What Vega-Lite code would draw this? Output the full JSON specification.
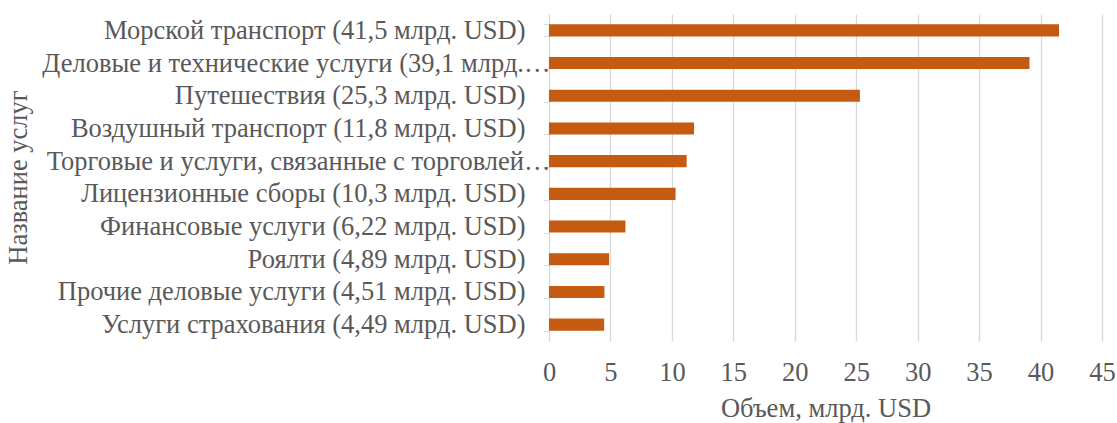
{
  "$schema": "https://vega.github.io/schema/vega-lite/v6.json",
  "autosize": {"type": "none"},
  "width": 553,
  "height": 327,
  "padding": {"left": 549, "top": 14, "right": 15, "bottom": 82},
  "background": "white",
  "config": {
    "font": "Liberation Serif",
    "view": {"stroke": null}
  },
  "data": {
    "values": [
      {"service": "Морской транспорт (41,5 млрд. USD)", "value": 41.5},
      {"service": "Деловые и технические услуги (39,1 млрд.…", "value": 39.1},
      {"service": "Путешествия (25,3 млрд. USD)", "value": 25.3},
      {"service": "Воздушный транспорт (11,8 млрд. USD)", "value": 11.8},
      {"service": "Торговые и услуги, связанные с торговлей…", "value": 11.2},
      {"service": "Лицензионные сборы (10,3 млрд. USD)", "value": 10.3},
      {"service": "Финансовые услуги (6,22 млрд. USD)", "value": 6.22},
      {"service": "Роялти (4,89 млрд. USD)", "value": 4.89},
      {"service": "Прочие деловые услуги (4,51 млрд. USD)", "value": 4.51},
      {"service": "Услуги страхования (4,49 млрд. USD)", "value": 4.49}
    ]
  },
  "mark": {"type": "bar", "color": "#C55A11"},
  "encoding": {
    "y": {
      "field": "service",
      "type": "nominal",
      "sort": null,
      "scale": {"paddingInner": 0.63, "paddingOuter": 0.315},
      "axis": {
        "title": "Название услуг",
        "titleFont": "Liberation Serif",
        "titleFontSize": 26.5,
        "titleFontWeight": "normal",
        "titleColor": "#595959",
        "titleX": -531,
        "titleY": 163,
        "titleAngle": -90,
        "titleAlign": "center",
        "titleBaseline": "middle",
        "labelFont": "Liberation Serif",
        "labelFontSize": 26.5,
        "labelColor": "#595959",
        "labelLimit": 560,
        "labelPadding": {"condition": {"test": "indexof(datum.label, '…') >= 0", "value": -7}, "value": 18},
        "domainColor": "#d9d9d9",
        "domainWidth": 1,
        "tickColor": "#d9d9d9",
        "tickSize": 6,
        "tickBand": "extent",
        "grid": false
      }
    },
    "x": {
      "field": "value",
      "type": "quantitative",
      "scale": {"domain": [0, 45], "nice": false},
      "axis": {
        "title": "Объем, млрд. USD",
        "titleFont": "Liberation Serif",
        "titleFontSize": 26.5,
        "titleFontWeight": "normal",
        "titleColor": "#595959",
        "titlePadding": 10,
        "values": [0, 5, 10, 15, 20, 25, 30, 35, 40, 45],
        "labelFont": "Liberation Serif",
        "labelFontSize": 26.5,
        "labelColor": "#595959",
        "labelPadding": 18,
        "labelFlush": false,
        "domain": false,
        "ticks": false,
        "grid": true,
        "gridColor": "#d9d9d9",
        "gridWidth": 1.3
      }
    }
  }
}
